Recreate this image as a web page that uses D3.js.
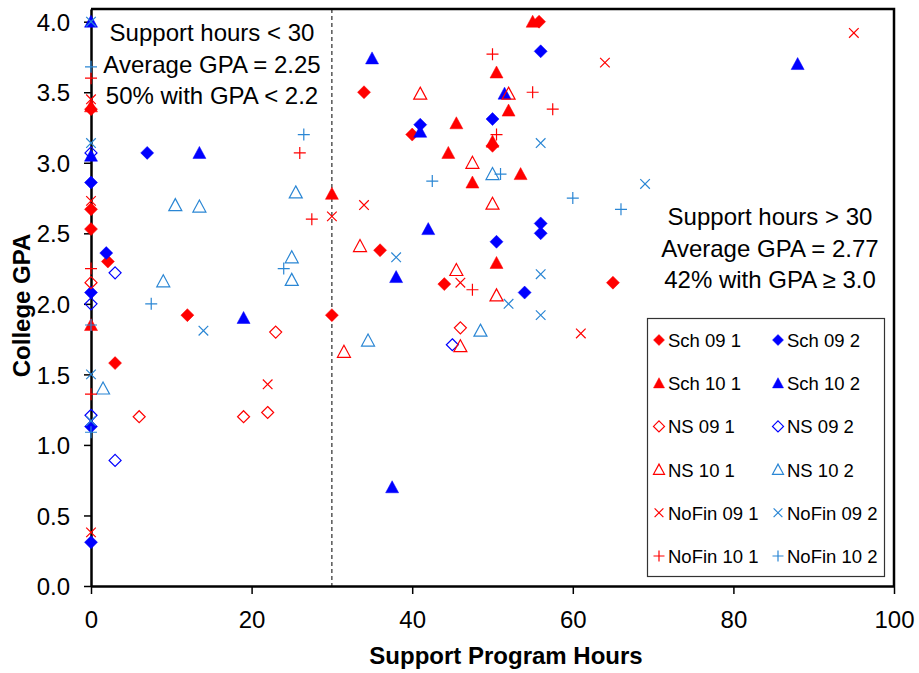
<!DOCTYPE html>
<html><head><meta charset="utf-8">
<script src="https://cdn.jsdelivr.net/npm/d3@7"></script>
<style>body{margin:0;background:#fff}svg{display:block}text{font-family:"Liberation Sans",Arial,sans-serif}</style>
</head><body>
<script>
// ---- data ----
const seriesNames = ["Sch 09 1","Sch 09 2","Sch 10 1","Sch 10 2","NS 09 1","NS 09 2","NS 10 1","NS 10 2","NoFin 09 1","NoFin 09 2","NoFin 10 1","NoFin 10 2"];
const sch091 = [[0,3.38],[0,2.67],[0,2.53],[2.1,2.3],[3,1.58],[12,1.92],[30,1.92],[34,3.5],[36,2.38],[40,3.2],[44,2.14],[50,3.12],[55.8,4.0],[65,2.15]];
const sch092 = [[0,2.86],[0,2.08],[0,1.13],[0,0.31],[1.9,2.36],[7,3.07],[41,3.27],[50,3.31],[50.5,2.44],[54,2.08],[56,3.79],[56,2.57],[56,2.5]];
const sch101 = [[0,3.4],[0,1.85],[30,2.78],[44.5,3.07],[45.5,3.28],[47.5,2.86],[50,3.15],[50.5,3.64],[50.5,2.29],[52,3.37],[53.5,2.92],[55,4.0]];
const sch102 = [[0,4.0],[0,3.05],[13.5,3.07],[19,1.9],[35,3.74],[37.5,0.7],[38,2.19],[41,3.22],[42,2.53],[51.5,3.49],[88,3.7]];
const ns091 = [[0,2.15],[6,1.2],[19,1.2],[22,1.23],[23,1.8],[46,1.83]];
const ns092 = [[0,3.07],[0,2.0],[0,1.21],[3,2.22],[3,0.89],[45,1.71]];
const ns101 = [[31.5,1.66],[33.5,2.41],[41,3.49],[45.5,2.24],[46,1.7],[47.5,3.0],[50,2.71],[50.5,2.06],[52,3.49]];
const ns102 = [[1.5,1.4],[9,2.16],[10.5,2.7],[13.5,2.69],[25,2.33],[25,2.17],[25.5,2.79],[34.5,1.74],[48.5,1.81],[50,2.92]];
const nofin091 = [[0,3.45],[0,2.73],[0,0.38],[22,1.43],[30,2.62],[34,2.7],[46,2.15],[61,1.79],[64,3.71],[95,3.92]];
const nofin092 = [[0,4.0],[0,3.14],[0,1.5],[0,1.17],[14,1.81],[38,2.33],[52,2.0],[56,3.14],[56,2.21],[56,1.92],[69,2.85]];
const nofin101 = [[0,3.6],[0,2.25],[0,1.36],[26,3.07],[27.5,2.6],[47.5,2.1],[50,3.77],[50.5,3.2],[55,3.5],[57.5,3.38]];
const nofin102 = [[0,3.68],[0,1.85],[0,1.09],[7.5,2.0],[24,2.25],[26.5,3.2],[42.5,2.87],[51,2.92],[60,2.75],[66,2.67]];
const seriesData = [sch091,sch092,sch101,sch102,ns091,ns092,ns101,ns102,nofin091,nofin092,nofin101,nofin102];
const xTicks = [0,20,40,60,80,100];
const yTicks = [0,0.5,1,1.5,2,2.5,3,3.5,4];
const leftNote = ["Support hours < 30","Average GPA = 2.25","50% with GPA < 2.2"];
const rightNote = ["Support hours > 30","Average GPA = 2.77","42% with GPA \u2265 3.0"];

// ---- styles ----
const RED="#ff0000", BLUE="#0000ff", LBLUE="#2a86d4";
const styles = [
 {shape:"diamond",fill:true,color:RED},{shape:"diamond",fill:true,color:BLUE},
 {shape:"triangle",fill:true,color:RED},{shape:"triangle",fill:true,color:BLUE},
 {shape:"diamond",fill:false,color:RED},{shape:"diamond",fill:false,color:BLUE},
 {shape:"triangle",fill:false,color:RED},{shape:"triangle",fill:false,color:LBLUE},
 {shape:"x",fill:false,color:RED},{shape:"x",fill:false,color:LBLUE},
 {shape:"plus",fill:false,color:RED},{shape:"plus",fill:false,color:LBLUE}
];
function markerPath(shape,s){
  if(shape==="diamond") return `M0,${-s}L${s},0L0,${s}L${-s},0Z`;
  if(shape==="triangle") return `M0,${-s}L${s},${s*0.85}L${-s},${s*0.85}Z`;
  if(shape==="x"){const a=s*0.8;return `M${-a},${-a}L${a},${a}M${-a},${a}L${a},${-a}`;}
  if(shape==="plus") return `M${-s},0L${s},0M0,${-s}L0,${s}`;
}

const W=919,H=673;
const L=91,R=894,T=9,B=586;
const svg=d3.select("body").append("svg").attr("width",W).attr("height",H);
const x=d3.scaleLinear().domain([0,100]).range([L,R]);
const y=d3.scaleLinear().domain([0,4.09]).range([B,T]);

// dashed line at 30 hours
svg.append("line").attr("x1",x(30)).attr("x2",x(30)).attr("y1",T).attr("y2",B)
  .attr("stroke","#000").attr("stroke-width",1).attr("stroke-dasharray","4,3");

// frame top & right
svg.append("path").attr("d",`M${L},${T}L${R},${T}L${R},${B}`).attr("fill","none").attr("stroke","#000").attr("stroke-width",2.5);

// axes
const yAxis=svg.append("g").attr("transform",`translate(${L},0)`)
  .call(d3.axisLeft(y).tickValues(yTicks).tickFormat(d3.format(".1f")).tickSize(7).tickSizeOuter(0));
const xAxis=svg.append("g").attr("transform",`translate(0,${B})`)
  .call(d3.axisBottom(x).tickValues(xTicks).tickFormat(d3.format("d")).tickSize(8).tickSizeOuter(0));
[yAxis,xAxis].forEach(g=>{
  g.select(".domain").attr("stroke","#000").attr("stroke-width",2.5);
  g.selectAll(".tick line").attr("stroke","#000").attr("stroke-width",1.5);
  g.selectAll(".tick text").attr("font-size",24).attr("fill","#000").attr("font-family","Liberation Sans, Arial, sans-serif");
});
yAxis.selectAll(".tick text").attr("x",-21).attr("dy","0.36em");
xAxis.selectAll(".tick text").attr("y",42).attr("dy",0);

// axis titles
svg.append("text").attr("x",506).attr("y",664).attr("text-anchor","middle")
  .attr("font-size",24).attr("font-weight","bold").text("Support Program Hours");
svg.append("text").attr("transform",`translate(30,${(T+B)/2+8}) rotate(-90)`).attr("text-anchor","middle")
  .attr("font-size",24).attr("font-weight","bold").text("College GPA");

// points
seriesData.forEach((pts,i)=>{
  const st=styles[i];
  svg.append("g").selectAll("path").data(pts).join("path")
    .attr("transform",d=>`translate(${x(d[0])},${y(d[1])})`)
    .attr("d",markerPath(st.shape, st.shape==="diamond"?(st.fill?6.5:6):st.shape==="triangle"?6.5:6))
    .attr("fill",st.fill?st.color:"none")
    .attr("stroke",st.color).attr("stroke-width",st.fill?0.5:1.2);
});

// notes
const noteL=svg.append("text").attr("font-size",24).attr("text-anchor","middle");
leftNote.forEach((t,i)=>noteL.append("tspan").attr("x",212).attr("y",41+i*31.5).text(t));
const noteR=svg.append("text").attr("font-size",24).attr("text-anchor","middle");
rightNote.forEach((t,i)=>noteR.append("tspan").attr("x",770).attr("y",225+i*31.5).text(t));

// legend
const lg=svg.append("g");
lg.append("rect").attr("x",647.5).attr("y",318.5).attr("width",237).attr("height",258)
  .attr("fill","#fff").attr("stroke","#333").attr("stroke-width",1.2);
seriesNames.forEach((n,i)=>{
  const col=i%2,row=Math.floor(i/2);
  const cx=col?778:659, cy=340+row*43.2;
  const st=styles[i];
  lg.append("path").attr("transform",`translate(${cx},${cy})`)
    .attr("d",markerPath(st.shape,5.5))
    .attr("fill",st.fill?st.color:"none").attr("stroke",st.color).attr("stroke-width",st.fill?0.5:1.2);
  lg.append("text").attr("x",cx+9).attr("y",cy+7).attr("font-size",18.5).text(n);
});
</script>
</body></html>
